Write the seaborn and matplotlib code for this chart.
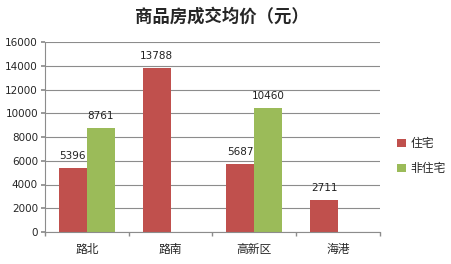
import matplotlib
matplotlib.use("Agg")
import matplotlib.pyplot as plt
import seaborn as sns
import pandas as pd
import numpy as np

categories = ["路北", "路南", "高新区", "海港"]
series = ["住宅", "非住宅"]
residential = [5396, 13788, 5687, 2711]
non_residential = [8761, np.nan, 10460, np.nan]
yticks = [0, 2000, 4000, 6000, 8000, 10000, 12000, 14000, 16000]
title = "商品房成交均价（元）"

sns.set_theme(style="white")
plt.rcParams['font.family'] = ['Noto Sans CJK SC', 'DejaVu Sans']

df = pd.DataFrame({
    "区域": categories * 2,
    "类型": [series[0]] * 4 + [series[1]] * 4,
    "价格": residential + non_residential,
})

fig = plt.figure(figsize=(4.52, 2.64), dpi=100)
ax = fig.add_axes([45/452, 1 - 232/264, 335/452, 190/264])
palette = {"住宅": "#C0504D", "非住宅": "#9BBB59"}
sns.barplot(data=df, x="区域", y="价格", hue="类型", palette=palette,
            width=0.667, ax=ax, saturation=1, legend=True, errorbar=None,
            linewidth=0, edgecolor="none")

ax.set_ylim(0, 16000)
ax.set_xlim(-0.5, 3.5)
ax.set_yticks(yticks)
ax.set_yticklabels([str(v) for v in yticks], fontsize=7.5, family=['DejaVu Sans'])
ax.yaxis.grid(True, color="#8c8c8c", linewidth=0.8)
ax.set_axisbelow(True)
ax.set_xlabel("")
ax.set_ylabel("")
ax.tick_params(axis='x', length=0, labelsize=8.5, pad=8)
ax.tick_params(axis='y', length=3, direction='out', color="#8c8c8c", pad=2, left=True)
ax.set_xticks([-0.5, 0.5, 1.5, 2.5, 3.5], minor=True)
ax.tick_params(axis='x', which='minor', length=3, direction='out', color="#8c8c8c", bottom=True)
for s in ["top", "right"]:
    ax.spines[s].set_visible(False)
for s in ["left", "bottom"]:
    ax.spines[s].set_color("#8c8c8c")
    ax.spines[s].set_linewidth(0.8)

for cont in ax.containers:
    for bar in cont:
        h = bar.get_height()
        if np.isnan(h) or h == 0:
            continue
        ax.text(bar.get_x() + bar.get_width() / 2, h + 600, f"{int(h)}",
                ha="center", va="bottom", fontsize=7.5, family=['DejaVu Sans'], color="#222222")

leg = ax.legend(loc="center left", bbox_to_anchor=(1.02, 0.40), frameon=False,
                fontsize=8.5, handlelength=0.7, handleheight=0.7, handletextpad=0.4,
                labelspacing=1.0)

fig.text(0.49, 1 - 17/264, title, ha="center", va="center", fontsize=12.5, fontweight="bold")

fig.savefig("out.png", dpi=100)
